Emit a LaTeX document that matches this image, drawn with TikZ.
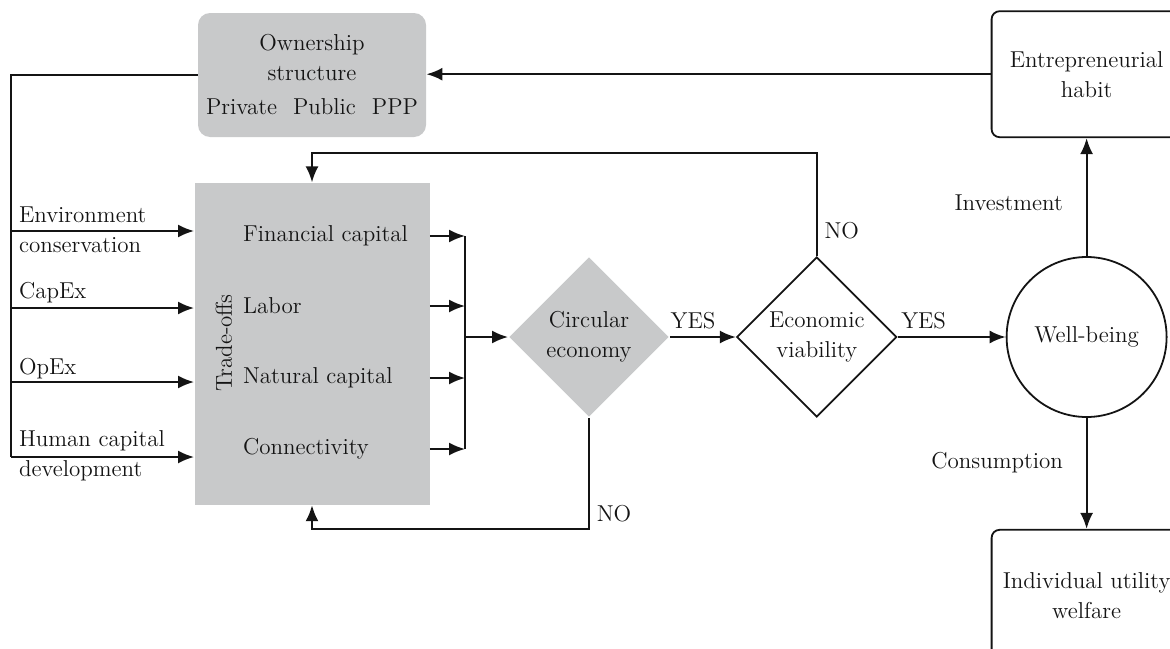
\documentclass[tikz,border=0pt]{standalone}
\usepackage{tikz}
\usetikzlibrary{shapes,arrows.meta,positioning}
\definecolor{boxgray}{RGB}{200,201,202}
\definecolor{ink}{RGB}{20,20,20}

\begin{document}
\begin{tikzpicture}[
    x=0.5pt, y=-0.5pt,
    font=\fontsize{11.5}{15}\selectfont,
    every node/.style={text=ink},
    graybox/.style={rectangle, fill=boxgray, align=center},
    box/.style={rectangle, rounded corners=4pt, draw=ink, line width=0.9pt, align=center, minimum width=95pt, minimum height=63pt},
    decision/.style={diamond, draw=ink, line width=0.9pt, align=center, inner sep=0pt, minimum width=80pt, minimum height=80pt},
    roundbox/.style={circle, draw=ink, line width=0.9pt, minimum size=80pt},
    wire/.style={draw=ink, line width=1.1pt},
    arrow/.style={wire, -{Latex[length=8pt,width=6.5pt]}}
]
\useasboundingbox (0,0) rectangle (1170,648);
\clip (0,0) rectangle (1170,648);

% Ownership
\node[graybox, rounded corners=6pt, minimum width=114pt, minimum height=62pt] (own) at (312,75) {Ownership\\structure\\[2pt]Private\hspace{8pt}Public\hspace{8pt}PPP};

% Trade-offs block
\node[graybox, minimum width=117.5pt, minimum height=161pt, below=22.5pt of own] (trade) {};
\node[rotate=90] (tradeoff) at (224,343) {Trade-offs};
\node[anchor=west] (fin) at (236,236) {Financial capital};
\node[anchor=west] (lab) at (236,306) {Labor};
\node[anchor=west] (nat) at (236,378) {Natural capital};
\node[anchor=west] (con) at (236,449) {Connectivity};

% Inputs
\foreach \name/\y in {env/231, capex/308, opex/382, human/457}
    \coordinate (\name) at (11,\y);
\node[anchor=west, align=left] (envtxt) at (12,230) {Environment\\conservation};
\node[anchor=west] (capextxt) at (12,293) {CapEx};
\node[anchor=west] (opextxt) at (12,369) {OpEx};
\node[anchor=west, align=left] (humantxt) at (12,456) {Human capital\\development};

% Decisions and outcomes
\node[decision, draw=none, fill=boxgray] (circ) at (589,337) {Circular\\economy};
\node[decision, right=33pt of circ] (econ) {Economic\\viability};
\node[roundbox, right=54pt of econ] (wb) {Well-being};
\node[box, above=59pt of wb] (entre) {Entrepreneurial\\habit};
\node[box, minimum height=66pt, below=55.5pt of wb] (indiv) {Individual utility\\welfare};
\coordinate[left=21.5pt of circ.west] (bus);

% Arrows
\draw[wire] (own.west) -| (human);
\foreach \name in {env,capex,opex,human}
    \draw[arrow] (\name) -- (\name -| trade.west);
\foreach \item in {fin,lab,nat,con}
    \draw[arrow] (\item -| trade.east) -- (\item -| bus);
\draw[wire] (fin -| bus) -- (con -| bus);
\draw[arrow] (bus) -- (circ);
\draw[arrow] (circ) -- node[above, pos=0.35] {YES} (econ);
\draw[arrow] (econ) -- node[above, pos=0.24] {YES} (wb);
\draw[arrow] (econ.north) -- node[right, pos=0.25] {NO} ++(0,-103) -| (trade.north);
\draw[arrow] (circ.south) -- node[right, pos=0.86] {NO} ++(0,111) -| (trade.south);
\draw[arrow] (entre.west) -- (entre.west -| own.east);
\draw[arrow] (wb) -- node[left=8pt, pos=0.45] {Investment} (entre);
\draw[arrow] (wb) -- node[left=8pt, pos=0.4] {Consumption} (indiv);

\end{tikzpicture}
\end{document}
